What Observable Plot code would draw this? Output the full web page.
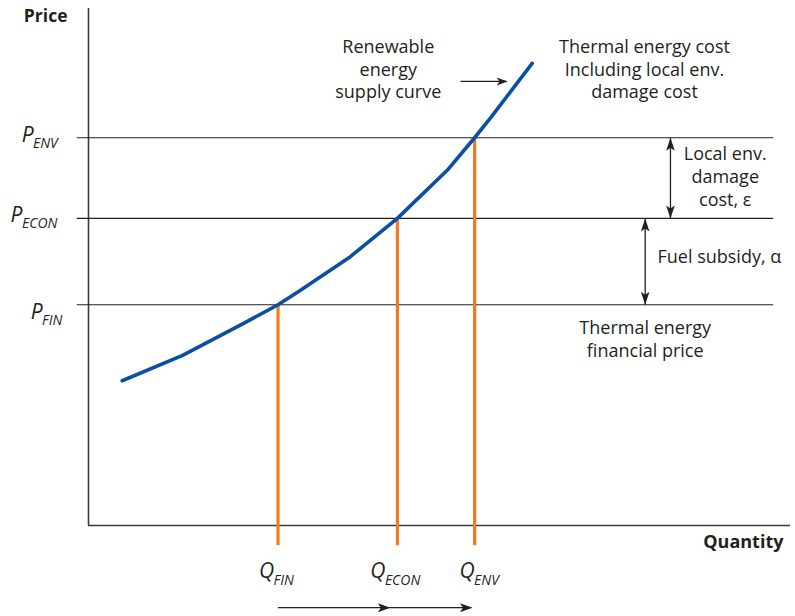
<!DOCTYPE html>
<html>
<head>
<meta charset="utf-8">
<script src="https://cdn.jsdelivr.net/npm/d3@7"></script>
<script src="https://cdn.jsdelivr.net/npm/@observablehq/plot@0.6"></script>
<style>
  html, body { margin: 0; padding: 0; background: #ffffff; }
  #chart svg { display: block; }
</style>
</head>
<body>
<div id="chart"></div>
<script>
// ---- Data (conceptual units: quantity 0–100, price 0–100) ----
const levels = ["FIN", "ECON", "ENV"];
const qValues = [27, 44, 55];          // Q_FIN, Q_ECON, Q_ENV
const pValues = [42.7, 59.4, 75.0];    // P_FIN, P_ECON, P_ENV

// Renewable energy supply curve
const curveQ = [4.8, 13.4, 22.1, 27.0, 30.2, 37.3, 44.0, 51.1, 55.0, 57.3, 63.2];
const curveP = [28.0, 32.9, 39.1, 42.7, 45.5, 52.0, 59.4, 68.7, 75.0, 78.9, 89.4];

const curve = curveQ.map((q, i) => ({q, p: curveP[i]}));
const levelRows = levels.map((name, i) => ({name, q: qValues[i], p: pValues[i]}));

// ---- Arrowhead symbols (tip at origin) ----
function head(dir, len, half, notch) {
  return {
    draw(ctx) {
      const pts = [[0, 0], [half, len], [0, len - notch], [-half, len]];
      const rot = ([x, y]) => dir === "up" ? [x, y] : dir === "down" ? [x, -y] : [-y, x];
      pts.map(rot).forEach(([x, y], i) => i ? ctx.lineTo(x, y) : ctx.moveTo(x, y));
      ctx.closePath();
    }
  };
}
const upHead = head("up", 13, 4.3, 3);
const downHead = head("down", 13, 4.3, 3);
const rightHead = head("right", 12.5, 4.5, 3);
const rightHeadSmall = head("right", 11, 4, 3);

const FONT = "Open Sans";
const ink = "#231f20";
const TXT = 18;
const xMin = -1.6, xMax = 97.6;     // extent of the price level lines
const qBottom = -3.9;               // bottom of the quantity drop lines

// label placement tweaks (pixels)
const pLabelX = [-6.55, -9.40, -7.83];
const pDy = [8, -3, -2];
const qDx = [-4, -12, 0];

const labelMarks = levels.flatMap((name, i) => [
  Plot.text(["P"], {x: pLabelX[i], y: pValues[i], dy: pDy[i], textAnchor: "end",
    fontStyle: "italic", fontSize: 21, fill: ink}),
  Plot.text([name], {x: pLabelX[i], y: pValues[i], dy: pDy[i] + 8, dx: -0.5, textAnchor: "start",
    fontStyle: "italic", fontSize: 14, fill: ink}),
  Plot.text(["Q"], {x: qValues[i], y: qBottom, dx: qDx[i], dy: 26, textAnchor: "end",
    fontStyle: "italic", fontSize: 21, fill: ink}),
  Plot.text([name], {x: qValues[i], y: qBottom, dx: qDx[i] - 0.5, dy: 35, textAnchor: "start",
    fontStyle: "italic", fontSize: 14, fill: ink})
]);

const chart = Plot.plot({
  width: 795,
  height: 616,
  marginLeft: 88,
  marginRight: 5,
  marginTop: 8,
  marginBottom: 91,
  x: {domain: [0, 100], axis: null},
  y: {domain: [0, 100], axis: null},
  style: {fontFamily: FONT, background: "#ffffff", color: ink},
  marks: [
    // axes
    Plot.ruleX([0], {y1: 0, y2: 100, stroke: "#3a3a3a", strokeWidth: 1.6}),
    Plot.ruleY([0], {x1: 0, x2: 100, stroke: "#3a3a3a", strokeWidth: 1.6}),
    // price level lines
    Plot.ruleY(levelRows, {y: "p", x1: xMin, x2: xMax, stroke: ink, strokeWidth: 1.2}),
    // quantity drop lines
    Plot.ruleX(levelRows, {x: "q", y1: qBottom, y2: "p", stroke: "#f47a20", strokeWidth: 3.2}),
    // supply curve
    Plot.line(curve, {x: "q", y: "p", stroke: "#0a4fa3", strokeWidth: 3.6, curve: "linear"}),

    // double arrow: local env damage cost (between P_ECON and P_ENV)
    Plot.link([0], {x1: 82.9, x2: 82.9, y1: pValues[1], y2: pValues[2], stroke: ink, strokeWidth: 1.3}),
    Plot.dot([0], {x: 82.9, y: pValues[2], symbol: upHead, fill: ink, stroke: null}),
    Plot.dot([0], {x: 82.9, y: pValues[1], symbol: downHead, fill: ink, stroke: null}),
    // double arrow: fuel subsidy (between P_FIN and P_ECON)
    Plot.link([0], {x1: 79.3, x2: 79.3, y1: pValues[0], y2: pValues[1], stroke: ink, strokeWidth: 1.3}),
    Plot.dot([0], {x: 79.3, y: pValues[1], symbol: upHead, fill: ink, stroke: null}),
    Plot.dot([0], {x: 79.3, y: pValues[0], symbol: downHead, fill: ink, stroke: null}),

    // renewable label arrow
    Plot.link([0], {x1: 53.0, x2: 59.5, y1: 85.9, y2: 85.9, stroke: ink, strokeWidth: 1.3}),
    Plot.dot([0], {x: 59.7, y: 85.9, symbol: rightHeadSmall, fill: ink, stroke: null}),

    // bottom arrows Q_FIN -> Q_ECON -> Q_ENV
    Plot.link([0], {x1: qValues[0], x2: 54.5, y1: -15.9, y2: -15.9, stroke: ink, strokeWidth: 1.3}),
    Plot.dot([0], {x: 43.0, y: -15.9, symbol: rightHead, fill: ink, stroke: null}),
    Plot.dot([0], {x: 54.7, y: -15.9, symbol: rightHead, fill: ink, stroke: null}),

    // axis titles
    Plot.text(["Price"], {x: -6.1, y: 98.5, fontWeight: "bold", fontSize: 17.5, fill: ink}),
    Plot.text(["Quantity"], {x: 99.0, y: -3.3, textAnchor: "end", fontWeight: "bold", fontSize: 18, fill: ink}),

    ...labelMarks,

    // annotations
    Plot.text(["Renewable\nenergy\nsupply curve"], {x: 42.7, y: 88.4, fontSize: TXT, lineHeight: 1.25, fill: ink}),
    Plot.text(["Thermal energy cost\nIncluding local env.\ndamage cost"], {x: 79.2, y: 88.4, fontSize: TXT, lineHeight: 1.25, fill: ink}),
    Plot.text(["Local env.\ndamage\ncost, ε"], {x: 90.7, y: 67.7, fontSize: TXT, lineHeight: 1.28, fill: ink}),
    Plot.text(["Fuel subsidy, α"], {x: 81.05, y: 51.8, textAnchor: "start", fontSize: TXT, fill: ink}),
    Plot.text(["Thermal energy\nfinancial price"], {x: 79.3, y: 36.3, fontSize: TXT, lineHeight: 1.28, fill: ink})
  ]
});

document.getElementById("chart").appendChild(chart);
</script>
</body>
</html>
